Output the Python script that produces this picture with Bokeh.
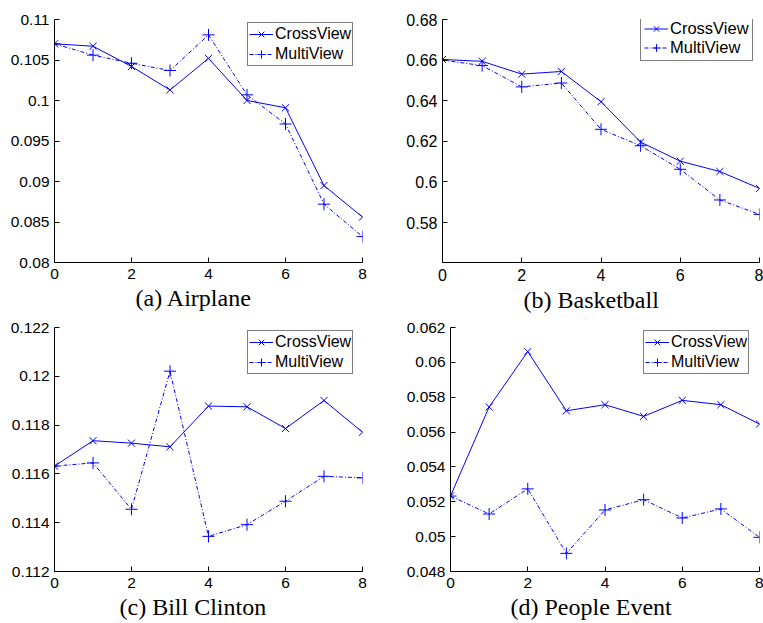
from bokeh.plotting import figure
from bokeh.layouts import column, row
from bokeh.models import Range1d, FixedTicker, CustomJSTickFormatter, Legend, LegendItem, Title
from bokeh.embed import file_html
from bokeh.resources import INLINE

# ---------------- data ----------------
steps = [0, 1, 2, 3, 4, 5, 6, 7, 8]
x_ticks = [0, 2, 4, 6, 8]
series_names = ["CrossView", "MultiView"]

airplane_cross = [0.1070, 0.1067, 0.1042, 0.1013, 0.1052, 0.1000, 0.0991, 0.0895, 0.0856]
airplane_multi = [0.1070, 0.1056, 0.1046, 0.1037, 0.1081, 0.1007, 0.0971, 0.0872, 0.0832]
airplane_yticks = [0.08, 0.085, 0.09, 0.095, 0.1, 0.105, 0.11]

basketball_cross = [0.6603, 0.6594, 0.6531, 0.6544, 0.6395, 0.6196, 0.6102, 0.6051, 0.5968]
basketball_multi = [0.6600, 0.6573, 0.6468, 0.6487, 0.6259, 0.6178, 0.6062, 0.5911, 0.5840]
basketball_yticks = [0.58, 0.6, 0.62, 0.64, 0.66, 0.68]

clinton_cross = [0.11632, 0.11736, 0.11726, 0.11711, 0.11878, 0.11875, 0.11786, 0.11901, 0.11771]
clinton_multi = [0.11632, 0.11645, 0.11455, 0.12021, 0.11344, 0.11392, 0.11488, 0.11590, 0.11584]
clinton_yticks = [0.112, 0.114, 0.116, 0.118, 0.12, 0.122]

people_cross = [0.05233, 0.05744, 0.06062, 0.05722, 0.05757, 0.05690, 0.05782, 0.05757, 0.05646]
people_multi = [0.05233, 0.05130, 0.05274, 0.04904, 0.05153, 0.05212, 0.05107, 0.05159, 0.04996]
people_yticks = [0.048, 0.05, 0.052, 0.054, 0.056, 0.058, 0.06, 0.062]

captions = ["(a) Airplane", "(b) Basketball", "(c) Bill Clinton", "(d) People Event"]

BLUE = "#0000ff"
SANS = "Liberation Sans"
SERIF = "Liberation Serif"

fmt = CustomJSTickFormatter(code="return tick.toFixed(3).replace(/0+$/, '').replace(/\\.$/, '');")


def make_panel(cross, multi, y0, y1, yticks, caption, W, H, mb, leg_loc,
               cap_dx, tick_fs="15.5px", leg_fs="16px", leg_pad=1,
               leg_gw=24, leg_gh=20, cap_standoff=3):
    p = figure(width=W, height=H, output_backend="svg", toolbar_location=None,
               x_range=Range1d(0, 8), y_range=Range1d(y0, y1),
               min_border_left=mb[0], min_border_right=mb[1],
               min_border_top=mb[2], min_border_bottom=mb[3])
    p.outline_line_color = None
    p.grid.visible = False
    p.background_fill_color = "white"
    p.border_fill_color = "white"

    for ax in (p.xaxis[0], p.yaxis[0]):
        ax.axis_line_color = "black"
        ax.axis_line_width = 1
        ax.major_tick_line_color = "black"
        ax.major_tick_in = 5
        ax.major_tick_out = 0
        ax.minor_tick_line_color = None
        ax.major_label_text_font = SANS
        ax.major_label_text_font_size = tick_fs
        ax.major_label_text_color = "black"
    p.xaxis.ticker = FixedTicker(ticks=x_ticks)
    p.yaxis.ticker = FixedTicker(ticks=yticks)
    p.yaxis.formatter = fmt
    p.xaxis.major_label_standoff = 6
    p.yaxis.major_label_standoff = 5

    l1 = p.line(steps, cross, line_color=BLUE, line_width=1)
    s1 = p.scatter(steps, cross, marker="x", size=10, line_color=BLUE, line_width=1)
    l2 = p.line(steps, multi, line_color=BLUE, line_width=1, line_dash="4 2 1 2")
    s2 = p.scatter(steps, multi, marker="cross", size=12, line_color=BLUE, line_width=1)

    legend = Legend(items=[LegendItem(label=series_names[0], renderers=[l1, s1]),
                           LegendItem(label=series_names[1], renderers=[l2, s2])],
                    location=leg_loc, orientation="vertical",
                    padding=leg_pad, spacing=0, margin=0,
                    glyph_width=leg_gw, glyph_height=leg_gh, label_height=leg_gh,
                    label_standoff=2,
                    label_text_font=SANS, label_text_font_size=leg_fs,
                    label_text_color="black",
                    border_line_color="black", border_line_width=1,
                    background_fill_color="white", background_fill_alpha=1)
    p.add_layout(legend, "center")

    cap = Title(text=caption, align="left", offset=cap_dx, standoff=cap_standoff,
                text_font=SERIF, text_font_size="24px", text_font_style="normal",
                text_color="black")
    p.add_layout(cap, "below")
    return p


pa = make_panel(airplane_cross, airplane_multi, 0.08, 0.11, airplane_yticks, captions[0],
                380, 314, (54, 18, 19, 52), (193, 196), 81)
pb = make_panel(basketball_cross, basketball_multi, 0.5603, 0.68, basketball_yticks, captions[1],
                383, 314, (62, 4, 11, 52), (198, 201), 81,
                tick_fs="16px", leg_fs="16.5px", leg_pad=3, leg_gw=24, leg_gh=19)
pc = make_panel(clinton_cross, clinton_multi, 0.112, 0.122, clinton_yticks, captions[2],
                380, 309, (54, 18, 13, 52), (193, 197), 65)
pd = make_panel(people_cross, people_multi, 0.048, 0.062, people_yticks, captions[3],
                383, 309, (70, 4, 13, 52), (193, 197), 60)

layout = column(row(pa, pb), row(pc, pd))

open("out.html", "w").write(file_html(layout, INLINE))
